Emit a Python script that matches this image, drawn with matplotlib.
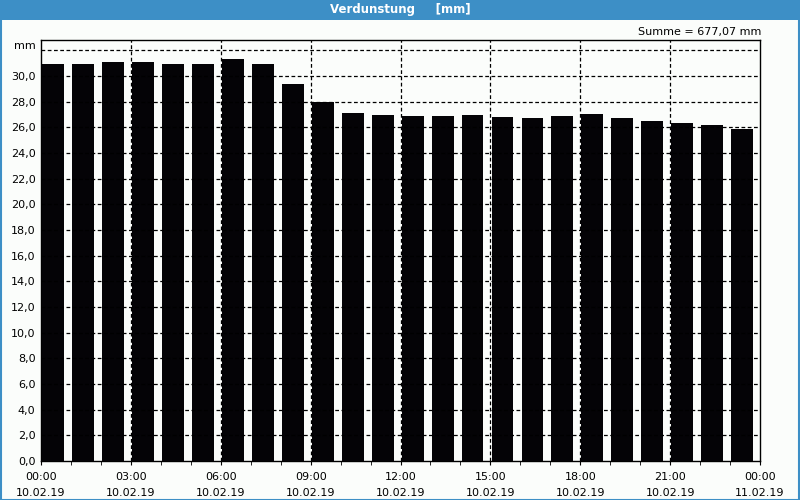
import matplotlib
matplotlib.use("Agg")
import matplotlib.pyplot as plt
import numpy as np

# hourly evaporation values, 10.02.19 00:00 .. 23:00
hours = list(range(24))
values = [30.95, 30.95, 31.1, 31.1, 30.95, 30.95, 31.33, 30.94,
          29.38, 27.96, 27.12, 26.96, 26.89, 26.89, 26.96, 26.8,
          26.73, 26.89, 27.0, 26.73, 26.5, 26.3, 26.2, 25.9]
tick_hours = [0, 3, 6, 9, 12, 15, 18, 21, 24]
tick_labels = ["00:00\n10.02.19", "03:00\n10.02.19", "06:00\n10.02.19",
               "09:00\n10.02.19", "12:00\n10.02.19", "15:00\n10.02.19",
               "18:00\n10.02.19", "21:00\n10.02.19", "00:00\n11.02.19"]
y_ticks = np.arange(0, 31, 2)
y_labels = ["%.1f" % v for v in y_ticks]
y_labels = [s.replace(".", ",") for s in y_labels]
title = "Verdunstung     [mm]"
summe = "Summe = 677,07 mm"

bg = "#fbfdfb"
blue = "#3d8fc6"

fig = plt.figure(figsize=(8, 5), dpi=100, facecolor=bg)

# title bar and frame
fig.patches.append(plt.Rectangle((0, 0.96), 1, 0.04, transform=fig.transFigure,
                                 facecolor=blue, edgecolor="none", zorder=0))
fig.patches.append(plt.Rectangle((0.001, 0.001), 0.998, 0.998, transform=fig.transFigure,
                                 facecolor="none", edgecolor=blue, linewidth=1.5, zorder=0))
fig.text(0.5, 0.98, title, color="white", fontsize=8.5, fontweight="bold",
         ha="center", va="center")

ax = fig.add_axes([0.05125, 0.078, 0.89875, 0.842])
ax.set_facecolor(bg)

ax.bar(np.array(hours) + 0.04, values, width=0.73, align="edge",
       color="#040306", edgecolor="none", zorder=3)

ax.set_xlim(0, 24)
ax.set_ylim(0, 32.8)

ax.set_yticks(y_ticks)
ax.set_yticklabels(y_labels, fontsize=8)
ax.tick_params(axis="y", length=0, pad=4)

ax.set_xticks(tick_hours)
ax.set_xticklabels(tick_labels, fontsize=8, linespacing=1.7)
ax.set_xticks(hours, minor=True)
ax.tick_params(axis="x", which="both", length=3, pad=5, direction="out")

# dashed grid
for yv in list(y_ticks[1:]) + [32]:
    ax.axhline(yv, color="black", linestyle=(0, (3, 2)), linewidth=0.9, zorder=4)
for xv in tick_hours[1:-1]:
    ax.axvline(xv, color="black", linestyle=(0, (3, 2)), linewidth=0.9, zorder=4)

for s in ax.spines.values():
    s.set_linewidth(1.0)
    s.set_color("black")

fig.text(0.045, 0.908, "mm", fontsize=8, ha="right", va="center")
fig.text(0.952, 0.935, summe, fontsize=8, ha="right", va="center")

fig.savefig("out.png", dpi=100, facecolor=bg)
